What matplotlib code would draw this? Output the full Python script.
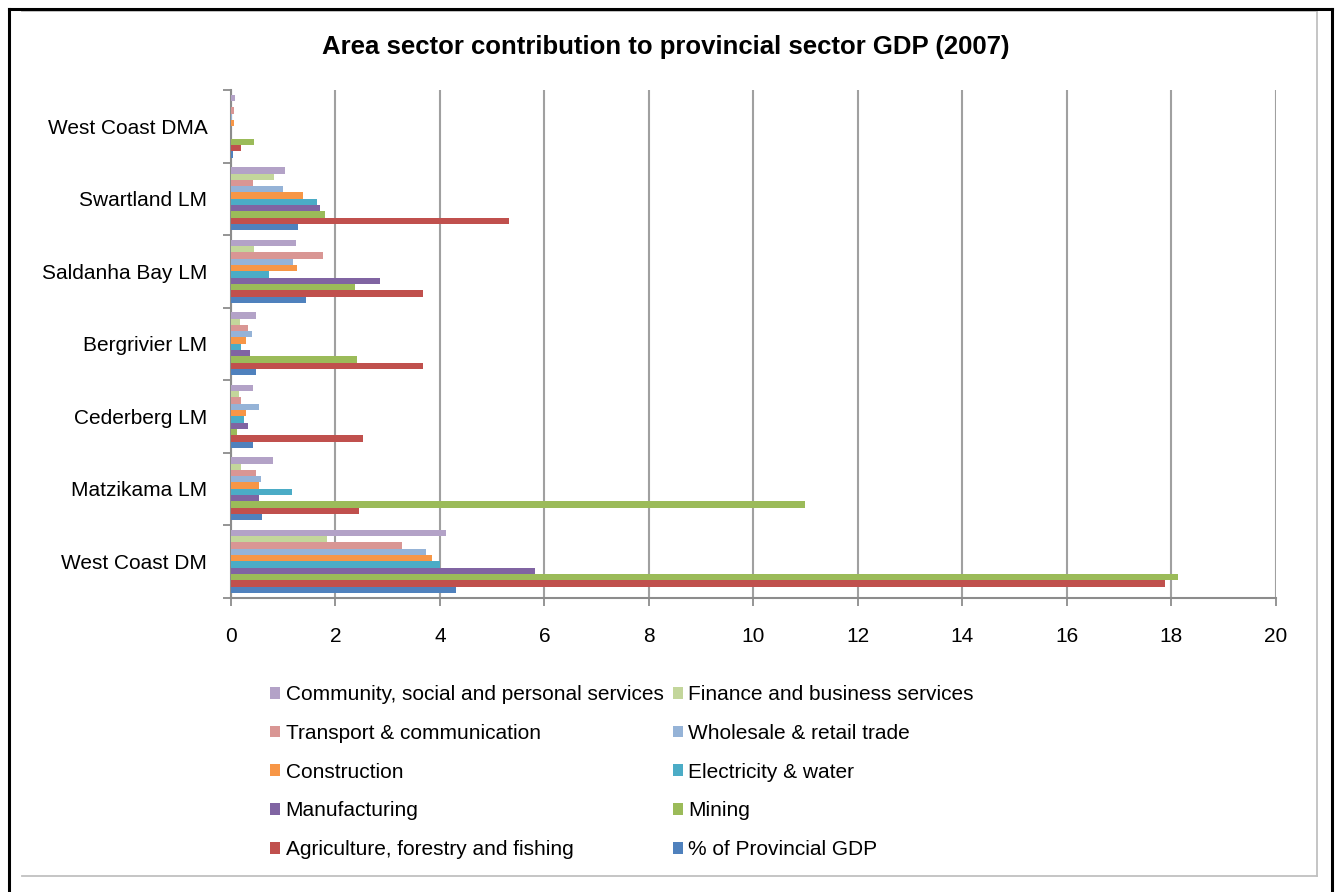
import numpy as np
import matplotlib
matplotlib.use("Agg")
import matplotlib.pyplot as plt
from matplotlib.lines import Line2D
from matplotlib.patches import Patch

plt.rcParams['font.family'] = ['Liberation Sans', 'DejaVu Sans']

# Areas, bottom to top
categories = ["West Coast DM", "Matzikama LM", "Cederberg LM", "Bergrivier LM",
              "Saldanha Bay LM", "Swartland LM", "West Coast DMA"]

# Sector contribution (%) per area, same order as categories
gdp_share     = [4.30, 0.60, 0.42, 0.48, 1.44, 1.28, 0.04]
agriculture   = [17.88, 2.45, 2.53, 3.67, 3.67, 5.33, 0.20]
mining        = [18.13, 10.98, 0.11, 2.41, 2.37, 1.80, 0.45]
manufacturing = [5.82, 0.54, 0.33, 0.36, 2.85, 1.70, 0.00]
electricity   = [4.01, 1.17, 0.25, 0.19, 0.73, 1.64, 0.00]
construction  = [3.85, 0.54, 0.29, 0.29, 1.26, 1.38, 0.06]
wholesale     = [3.74, 0.57, 0.54, 0.40, 1.19, 1.00, 0.02]
transport     = [3.27, 0.47, 0.20, 0.32, 1.76, 0.42, 0.06]
finance       = [1.83, 0.20, 0.15, 0.17, 0.45, 0.82, 0.00]
community     = [4.11, 0.81, 0.42, 0.48, 1.25, 1.04, 0.08]

series_names = ["% of Provincial GDP", "Agriculture, forestry and fishing", "Mining",
                "Manufacturing", "Electricity & water", "Construction",
                "Wholesale & retail trade", "Transport & communication",
                "Finance and business services", "Community, social and personal services"]
series_values = [gdp_share, agriculture, mining, manufacturing, electricity,
                 construction, wholesale, transport, finance, community]
colors = ["#4F81BD", "#C0504D", "#9BBB59", "#8064A2", "#4BACC6",
          "#F79646", "#95B3D7", "#D99694", "#C3D69B", "#B3A2C7"]

fig = plt.figure(figsize=(13.35, 8.92), dpi=100)
ax = fig.add_axes([0.1730, 0.3301, 0.7828, 0.5690])

y = np.arange(len(categories))
h = 0.087
handles = {}
for k, (name, vals, c) in enumerate(zip(series_names, series_values, colors)):
    ax.barh(y + (k - 4.5) * h, vals, height=h, color=c, zorder=3)
    handles[name] = Patch(facecolor=c)

ax.set_xlim(0, 20)
ax.set_ylim(-0.5, len(categories) - 0.5)
ax.set_xticks(np.arange(0, 21, 2))
ax.set_yticks(y)
ax.set_yticklabels(categories, fontsize=15)
ax.set_yticks(np.arange(-0.5, len(categories)), minor=True)
ax.tick_params(axis='y', which='major', length=0, pad=17)
ax.tick_params(axis='y', which='minor', length=6, width=1.3, color='#8c8c8c', direction='out')
ax.tick_params(axis='x', length=6, width=1.3, color='#8c8c8c', labelsize=15, pad=15)
ax.xaxis.grid(True, color='#a0a0a0', linewidth=1.5, zorder=0)
for side in ['top', 'right']:
    ax.spines[side].set_visible(False)
for side in ['left', 'bottom']:
    ax.spines[side].set_color('#8c8c8c')
    ax.spines[side].set_linewidth(1.5)

fig.text(0.4989, 0.9470, "Area sector contribution to provincial sector GDP (2007)",
         ha='center', va='center', fontsize=18.5, fontweight='bold')

# legend reads row by row, two columns
order = ["Community, social and personal services", "Transport & communication",
         "Construction", "Manufacturing", "Agriculture, forestry and fishing",
         "Finance and business services", "Wholesale & retail trade",
         "Electricity & water", "Mining", "% of Provincial GDP"]
fig.legend([handles[n] for n in order], order, ncol=2, loc='upper left',
           bbox_to_anchor=(0.2022, 0.232), frameon=False, fontsize=15,
           handlelength=0.5, handleheight=0.5, handletextpad=0.25,
           columnspacing=0.45, labelspacing=0.95, borderpad=0, borderaxespad=0)

# chart frame and outer border
W, H = 1335, 892
def px(x0, y0, x1, y1, **kw):
    fig.add_artist(Line2D([x0 / W, x1 / W], [1 - y0 / H, 1 - y1 / H],
                          transform=fig.transFigure, **kw))
px(22, 10.5, 1317, 10.5, color='#c0c0c0', linewidth=1.3)
px(1317, 10.5, 1317, 876, color='#c0c0c0', linewidth=1.3)
px(22, 876, 1317, 876, color='#c0c0c0', linewidth=1.3)
px(8.5, 9, 8.5, 892, color='black', linewidth=2.2)
px(8.5, 9, 1331.5, 9, color='black', linewidth=2.2)
px(1331.5, 9, 1331.5, 892, color='black', linewidth=2.2)

fig.savefig("out.png", dpi=100)
